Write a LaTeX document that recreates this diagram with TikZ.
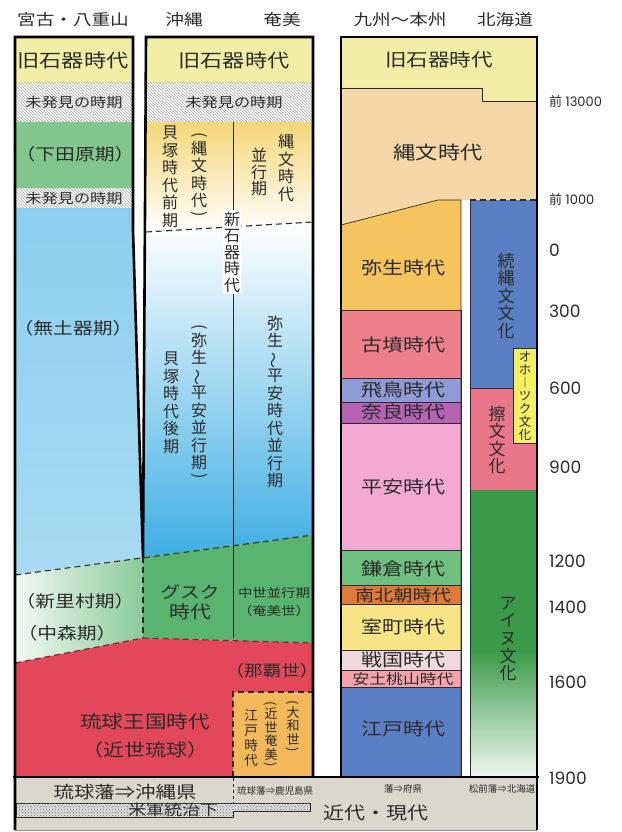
\documentclass[tikz,border=0pt]{standalone}
\usepackage{fontspec}
\setmainfont{Noto Sans CJK JP}
\newfontfamily\hf[FakeStretch=1.2]{Noto Sans CJK JP}
\newfontfamily\numf{Poppins}
\usetikzlibrary{patterns}

\definecolor{kyu}{HTML}{F2EEA6}
\definecolor{shimo}{HTML}{82C68E}
\definecolor{kaiz}{HTML}{F5D677}
\definecolor{muao}{HTML}{3EAEE3}
\definecolor{gusk}{HTML}{58B46F}
\definecolor{ryu}{HTML}{E2485A}
\definecolor{edoam}{HTML}{F2B85A}
\definecolor{jomon}{HTML}{F6D7A8}
\definecolor{yayoi}{HTML}{F5C45E}
\definecolor{kofun}{HTML}{EE808C}
\definecolor{asuka}{HTML}{8F9AD6}
\definecolor{nara}{HTML}{B663B6}
\definecolor{heian}{HTML}{F3A9D2}
\definecolor{kama}{HTML}{6FC07F}
\definecolor{nanb}{HTML}{E07A3A}
\definecolor{muro}{HTML}{F7E487}
\definecolor{seng}{HTML}{EFD9DC}
\definecolor{azuchi}{HTML}{F4A3AB}
\definecolor{edo}{HTML}{5B7FC4}
\definecolor{okh}{HTML}{F5EF62}
\definecolor{satsu}{HTML}{E9758A}
\definecolor{ainu}{HTML}{3A9A4A}
\definecolor{band}{HTML}{DCD7CD}
\definecolor{ink}{HTML}{2B2B2B}

\newcommand{\vwave}{\rotatebox[origin=c]{90}{〜}}
\newcommand{\vlp}{\rotatebox[origin=c]{-90}{(}}
\newcommand{\vrp}{\rotatebox[origin=c]{-90}{)}}

\tikzset{
  frame/.style={line width=2.6pt},
  sep/.style={line width=0.7pt, draw=ink},
  dsh/.style={line width=1.1pt, draw=ink, dash pattern=on 6pt off 4pt},
  hatch/.style={fill=white, postaction={pattern=north west lines, pattern color=black!35}},
  lbl/.style={text=ink, inner sep=0pt, font=\hf\fontsize{#1}{#1}\selectfont},
  small/.style={text=ink, inner sep=0pt, font=\fontsize{9.5}{9.5}\selectfont},
  vt/.style 2 args={text=ink, inner sep=0pt, align=center, font=\fontsize{#1}{#2}\selectfont},
  tick/.style={anchor=west, text=ink, inner sep=0pt, font=\numf\fontsize{#1}{#1}\selectfont},
}

\begin{document}
\begin{tikzpicture}[x=1pt, y=-1pt]
\useasboundingbox (0,0) rectangle (621,832);

% column heads
\node[lbl=15.5] (hdMiyako) at (73,20) {宮古・八重山};
\node[lbl=15.5] (hdOkinawa) at (184,20) {沖縄};
\node[lbl=15.5] (hdAmami) at (282,20) {奄美};
\node[lbl=15.5] (hdHonshu) at (400,20) {九州〜本州};
\node[lbl=15.5] (hdHokkaido) at (505,20) {北海道};

% Miyako / Yaeyama
\fill[kyu] (15,37) rectangle (133,83);
\path[hatch] (15,83) rectangle (133,122);
\fill[shimo] (15,122) rectangle (133,188);
\path[hatch] (15,188) rectangle (133,208);
\shade[top color=muao!60, middle color=muao!95!black, bottom color=muao!45] (15,208) -- (132,208) -- (132,230) -- (143,557) -- (15,575) -- cycle;
\shade[left color=gusk!8, right color=gusk!70] (15,575) -- (143,557) -- (143,638) -- (15,663) -- cycle;

% Okinawa / Amami
\fill[kyu] (146,37) rectangle (313,83);
\path[hatch] (146,83) rectangle (313,122);
\shade[top color=kaiz, bottom color=white] (146,122) -- (313,122) -- (313,222) -- (146,232) -- cycle;
\shade[top color=white, middle color=muao!50, bottom color=muao] (146,232) -- (313,222) -- (313,535) -- (143,557) -- cycle;
\fill[gusk] (143,557) -- (313,535) -- (313,643) -- (143,638) -- cycle;
\fill[ryu] (15,663) -- (143,638) -- (313,643) -- (313,777) -- (15,777) -- cycle;
\fill[edoam] (233,692) rectangle (313,777);

% Kyushu - Honshu
\fill[kyu] (341,37) -- (537,37) -- (537,101) -- (482,101) -- (482,88) -- (341,88) -- cycle;
\fill[jomon] (341,88) -- (482,88) -- (482,101) -- (537,101) -- (537,200) -- (438,200) -- (341,225) -- cycle;
\fill[yayoi] (341,225) -- (438,200) -- (461,200) -- (461,310) -- (341,310) -- cycle;
\foreach \ya/\yb/\col in {310/378/kofun, 378/402/asuka, 402/423/nara, 423/550/heian, 550/585/kama,
    585/604/nanb, 604/650/muro, 650/670/seng, 670/687/azuchi, 687/777/edo}
  \filldraw[fill=\col, sep] (341,\ya) rectangle (461,\yb);

% Hokkaido
\fill[edo] (470,200) rectangle (537,388);
\filldraw[fill=satsu, sep] (470,388) rectangle (537,490);
\filldraw[fill=okh, sep] (513,348) rectangle (537,443);
\fill[ainu] (470,490) rectangle (537,650);
\shade[top color=ainu, bottom color=ainu!8] (470,650) rectangle (537,777);

% bottom band
\fill[band] (15,777) rectangle (537,830);
\draw[black!45] (15,830) -- (537,830);
\draw[ink, dashed, line width=0.6pt] (233,778) -- (233,803);
\filldraw[fill=black!12, draw=ink, line width=0.6pt, postaction={pattern=crosshatch dots, pattern color=black!60}]
  (16,803) -- (310,803) -- (310,811) -- (233,811) -- (233,817) -- (16,817) -- cycle;

% separators
\draw[sep] (233,122) -- (233,638);
\draw[dsh] (146,232) -- (313,222);
\draw[dsh] (15,575) -- (313,535);
\draw[dsh] (143,557) -- (143,638);
\draw[dsh, draw=ryu!50!black] (15,663) -- (143,638) -- (313,643);
\draw[dsh] (233,777) -- (233,692) -- (313,692);
\draw[sep] (341,88) -- (482,88) -- (482,101) -- (537,101);
\draw[sep] (341,225) -- (438,200) -- (461,200) -- (461,777);
\draw[sep] (470,777) -- (470,200);
\draw[dsh] (470,200) -- (537,200);
\draw[sep] (470,388) -- (513,388);

% frames
\draw[frame] (15,830) -- (15,37) -- (133,37) -- (133,230) -- (143,557) -- (146,37) -- (313,37) -- (313,777);
\draw[frame] (341,777) -- (341,37) -- (537,37) -- (537,830);
\draw[frame] (13,777) -- (539,777);

% Miyako / Yaeyama labels
\node[lbl=18.5] (mKyu) at (73,60) {旧石器時代};
\node[lbl=13.5] (mMiA) at (74,102) {未発見の時期};
\node[lbl=16.5] (mShimo) at (75,154) {（下田原期）};
\node[lbl=13.5] (mMiB) at (74,198) {未発見の時期};
\node[lbl=16.5] (mMudo) at (73,328) {（無土器期）};
\node[lbl=16.5] (mShin) at (75,601) {（新里村期）};
\node[lbl=16.5] (mNaka) at (67,633) {（中森期）};

% Okinawa / Amami labels
\node[lbl=18.5] (oKyu) at (234,60) {旧石器時代};
\node[lbl=13.5] (oMi) at (234,102) {未発見の時期};
\node[vt={16}{17.5}] (oKaiA) at (170,177) {貝\\塚\\時\\代\\前\\期};
\node[vt={16}{17.5}] (oJom) at (199,176) {\vlp\\[-3.5pt]縄\\文\\時\\代\\[-5pt]\vrp};
\node[vt={16}{17.5}] (aJom) at (286,168) {縄\\文\\時\\代};
\node[vt={16}{16.3}] (aHeiko) at (259,172) {並\\行\\期};
\node[vt={16}{16.5}, fill=white, rounded corners=3pt, inner sep=1.5pt] (oShinseki) at (232,252) {新\\石\\器\\時\\代};
\node[vt={16}{17.5}] (oKaiB) at (171,403) {貝\\塚\\時\\代\\後\\期};
\node[vt={16}{17.5}] (oYayoi) at (199,403) {\vlp\\[-3.5pt]弥\\生\\\vwave\\平\\安\\並\\行\\期\\[-5pt]\vrp};
\node[vt={16}{17.5}] (aYayoi) at (275,402) {弥\\生\\\vwave\\平\\安\\時\\代\\並\\行\\期};
\node[lbl=16.5] (oGusA) at (190,592) {グスク};
\node[lbl=17.5] (oGusB) at (190,612) {時代};
\node[lbl=12] (aChuA) at (274,593) {中世並行期};
\node[lbl=12] (aChuB) at (274,611) {（奄美世）};
\node[lbl=15.5] (aNaha) at (272,671) {（那覇世）};
\node[lbl=18] (oRyuA) at (145,722) {琉球王国時代};
\node[lbl=17.5] (oRyuB) at (145,750) {（近世琉球）};
\node[vt={13.5}{14.7}] (aEdo) at (251,738) {江\\戸\\時\\代};
\node[vt={13}{13.5}] (aKinsei) at (271,735) {\vlp\\[-2.5pt]近\\世\\奄\\美\\[-4pt]\vrp};
\node[vt={13}{13.5}] (aYamato) at (293,727) {\vlp\\[-2.5pt]大\\和\\世\\[-4pt]\vrp};

% Kyushu - Honshu labels
\node[lbl=18] (hKyu) at (439,60) {旧石器時代};
\node[lbl=18.5] (hJomon) at (438,152) {縄文時代};
\node[lbl=17.5] (hYayoi) at (403,268) {弥生時代};
\node[lbl=17.5] (hKofun) at (403,345) {古墳時代};
\node[lbl=17.5] (hAsuka) at (403,390) {飛鳥時代};
\node[lbl=17.5] (hNara) at (403,412) {奈良時代};
\node[lbl=17.5] (hHeian) at (403,487) {平安時代};
\node[lbl=17.5] (hKama) at (403,569) {鎌倉時代};
\node[lbl=16] (hNanb) at (403,595) {南北朝時代};
\node[lbl=17.5] (hMuro) at (403,627) {室町時代};
\node[lbl=17.5] (hSeng) at (403,660) {戦国時代};
\node[lbl=14] (hAzu) at (403,679) {安土桃山時代};
\node[lbl=17.5] (hEdo) at (403,729) {江戸時代};

% Hokkaido labels
\node[vt={17}{17.5}] (kZoku) at (506,296) {続\\縄\\文\\文\\化};
\node[vt={12.5}{13}] (kOkh) at (525,396) {オ\\ホ\\︱\\ツ\\ク\\文\\化};
\node[vt={17}{17.5}] (kSatsu) at (497,440) {擦\\文\\文\\化};
\node[vt={17}{17.6}] (kAinu) at (508,639) {ア\\イ\\ヌ\\文\\化};

% band labels
\node[lbl=17] (bOki) at (125,792) {琉球藩⇒沖縄県};
\node[lbl=15] (bUS) at (173,810) {米軍統治下};
\node[small] (bKago) at (275,791) {琉球藩⇒鹿児島県};
\node[small] (bFuken) at (403,789) {藩⇒府県};
\node[small] (bHok) at (502,789) {松前藩⇒北海道};
\node[lbl=17.5] (bKindai) at (376,813) {近代・現代};

% time scale
\node[tick=13] (t13000) at (549,102) {{\rmfamily 前} 13000};
\node[tick=13] (t1000) at (549,200) {{\rmfamily 前} 1000};
\foreach \y/\n in {250/0, 311/300, 388/600, 467/900, 561/1200, 607/1400, 682/1600, 778/1900}
  \node[tick=17] (t\n) at (549,\y) {\n};
\end{tikzpicture}
\end{document}
